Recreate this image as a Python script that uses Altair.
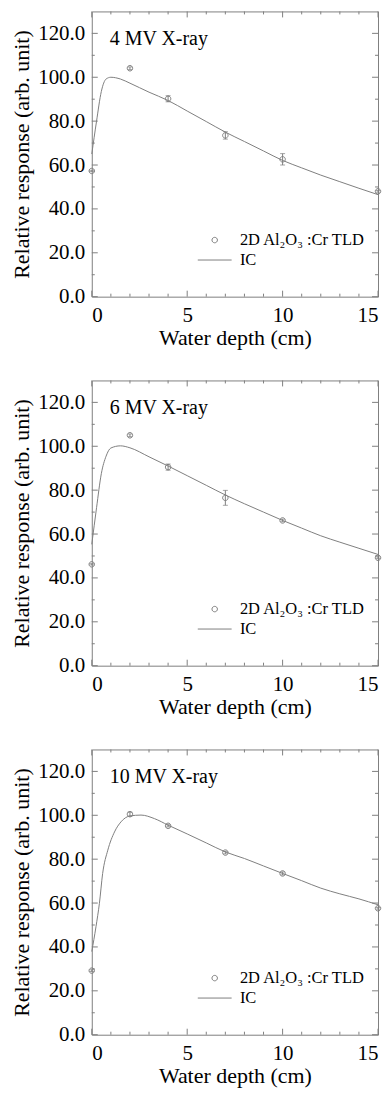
import altair as alt
import pandas as pd

# ---------------- data ----------------
tld_depth = [0, 2, 4, 7, 10, 15]

ic4_depth = [0, 0.25, 0.5, 0.75, 1.0, 1.5, 2, 3, 4, 5, 6, 7, 8, 9, 10, 11, 12, 13, 14, 15]
ic4_resp = [65.0, 80.0, 93.5, 99.2, 100.0, 99.2, 97.3, 93.2, 89.4, 84.6, 79.8, 75.0, 70.7, 66.4, 62.1, 58.7, 55.4, 52.4, 49.4, 46.5]
tld4_resp = [57.3, 104.1, 90.2, 73.5, 62.6, 48.0]
tld4_err = [0.3, 0.6, 1.4, 1.7, 2.6, 0.4]

ic6_depth = [0, 0.25, 0.5, 0.75, 1.0, 1.5, 2, 3, 4, 5, 6, 7, 8, 9, 10, 11, 12, 13, 14, 15]
ic6_resp = [55.3, 72.0, 87.5, 95.5, 99.2, 100.2, 99.3, 95.2, 91.0, 86.6, 82.2, 77.8, 73.8, 70.0, 66.2, 62.7, 59.2, 56.3, 53.5, 50.7]
tld6_resp = [46.2, 105.0, 90.5, 76.5, 66.2, 49.2]
tld6_err = [0.3, 0.6, 1.4, 3.4, 0.6, 0.4]

ic10_depth = [0, 0.22, 0.4, 0.57, 0.84, 1.19, 1.53, 2.0, 2.58, 3.28, 4, 5, 6, 7, 8, 9, 10, 11, 12, 13, 14, 15]
ic10_resp = [37.9, 49.2, 59.9, 73.5, 84.1, 92.4, 97.0, 99.7, 100.1, 98.5, 95.5, 91.5, 87.4, 83.3, 80.3, 76.9, 73.5, 70.2, 66.8, 64.2, 61.9, 59.2]
tld10_resp = [29.2, 100.5, 95.2, 83.0, 73.5, 57.6]
tld10_err = [0.4, 0.9, 0.5, 0.6, 0.7, 0.4]

panel_labels = ["4 MV X-ray", "6 MV X-ray", "10 MV X-ray"]
series_names = ["2D Al\u2082O\u2083 :Cr TLD", "IC"]

x_major = [0, 5, 10, 15]
x_minor = [1, 2, 3, 4, 6, 7, 8, 9, 11, 12, 13, 14]
y_major = [0, 20, 40, 60, 80, 100, 120]
y_minor = [10, 30, 50, 70, 90, 110]

# ---------------- styling ----------------
W, H = 287, 286
GRAY = "#7f7f7f"
FONT = "Liberation Serif"
MAJ, MIN = 6, 3
CIRCLE_PATH = "M-1,0A1,1 0 1,0 1,0A1,1 0 1,0 -1,0Z"
LINE_PATH = "M-6.2,0L6.2,0"

xs = alt.Scale(domain=[0, 15], nice=False, zero=False)
ys = alt.Scale(domain=[0, 130], nice=False, zero=False)
AX = alt.Axis(values=x_major, format="d", title="Water depth (cm)",
              labelFont=FONT, labelFontSize=21, labelColor="black",
              titleFont=FONT, titleFontSize=22, titleFontWeight="normal", titleColor="black",
              labelPadding=8, titlePadding=2, ticks=False, domain=False, grid=False)
AY = alt.Axis(values=y_major, format=".1f", title="Relative response (arb. unit)",
              labelFont=FONT, labelFontSize=21, labelColor="black",
              titleFont=FONT, titleFontSize=22, titleFontWeight="normal", titleColor="black",
              labelPadding=7, titlePadding=4, ticks=False, domain=False, grid=False)


def X(field):
    return alt.X(field, scale=xs, axis=AX, title="Water depth (cm)")


def Y(field):
    return alt.Y(field, scale=ys, axis=AY, title="Relative response (arb. unit)")


def tick_layers():
    layers = []
    for vals, ln in ((x_major, MAJ), (x_minor, MIN)):
        d = pd.DataFrame({"v": vals})
        layers.append(alt.Chart(d).mark_rule(color=GRAY, strokeWidth=1).encode(
            x=X("v:Q"), y=alt.value(H), y2=alt.value(H - ln)))
        layers.append(alt.Chart(d).mark_rule(color=GRAY, strokeWidth=1).encode(
            x=X("v:Q"), y=alt.value(0), y2=alt.value(ln)))
    for vals, ln in ((y_major, MAJ), (y_minor, MIN)):
        d = pd.DataFrame({"v": vals})
        layers.append(alt.Chart(d).mark_rule(color=GRAY, strokeWidth=1).encode(
            y=Y("v:Q"), x=alt.value(0), x2=alt.value(ln)))
        layers.append(alt.Chart(d).mark_rule(color=GRAY, strokeWidth=1).encode(
            y=Y("v:Q"), x=alt.value(W), x2=alt.value(W - ln)))
    return layers


def legend():
    return alt.Legend(
        title=None, orient="none", legendX=115, legendY=221,
        labelFont=FONT, labelFontSize=16.5, labelColor="black",
        symbolStrokeColor=GRAY, symbolFillColor="transparent", symbolSize=30,
        symbolStrokeWidth=1, labelOffset=17, padding=0, rowPadding=3)


def panel(label, ic_x, ic_y, tld_y, tld_e):
    ic = pd.DataFrame({"depth": ic_x, "resp": ic_y})
    tld = pd.DataFrame({
        "depth": tld_depth,
        "resp": tld_y,
        "lo": [v - e for v, e in zip(tld_y, tld_e)],
        "hi": [v + e for v, e in zip(tld_y, tld_e)],
        "series": series_names[0],
    })
    lab = pd.DataFrame({"label": [label]})

    line = alt.Chart(ic).mark_line(color=GRAY, strokeWidth=1, interpolate="monotone").encode(
        x=X("depth:Q"), y=Y("resp:Q"))
    err = alt.Chart(tld).mark_rule(color=GRAY, strokeWidth=1).encode(
        x=X("depth:Q"), y=Y("lo:Q"), y2="hi:Q")
    cap_lo = alt.Chart(tld).mark_tick(color=GRAY, orient="horizontal", size=5, thickness=1).encode(
        x=X("depth:Q"), y=Y("lo:Q"))
    cap_hi = alt.Chart(tld).mark_tick(color=GRAY, orient="horizontal", size=5, thickness=1).encode(
        x=X("depth:Q"), y=Y("hi:Q"))
    pts = alt.Chart(tld).mark_point(filled=False, color=GRAY, strokeWidth=1, opacity=1, size=30).encode(
        x=X("depth:Q"),
        y=Y("resp:Q"),
        shape=alt.Shape("series:N",
                        scale=alt.Scale(domain=series_names, range=[CIRCLE_PATH, LINE_PATH]),
                        legend=legend()),
    )
    title = alt.Chart(lab).mark_text(font=FONT, fontSize=20, color="black", align="left",
                                     baseline="alphabetic").encode(
        text="label:N", x=alt.value(18), y=alt.value(34))
    return alt.layer(line, *tick_layers(), err, cap_lo, cap_hi, pts, title).properties(
        width=W, height=H)


p1 = panel(panel_labels[0], ic4_depth, ic4_resp, tld4_resp, tld4_err)
p2 = panel(panel_labels[1], ic6_depth, ic6_resp, tld6_resp, tld6_err)
p3 = panel(panel_labels[2], ic10_depth, ic10_resp, tld10_resp, tld10_err)

chart = alt.vconcat(p1, p2, p3, spacing=84, bounds="flush").resolve_scale(
    shape="independent"
).properties(
    padding={"left": 2, "top": 1, "right": 0, "bottom": 0}
).configure(
    font=FONT,
).configure_view(
    stroke=GRAY, strokeWidth=1
).configure_axis(
    labelFont=FONT, labelFontSize=21, labelColor="black",
    titleFont=FONT, titleFontSize=22, titleFontWeight="normal", titleColor="black",
    ticks=False, domain=False, grid=False,
)

chart.save("out.html", embed_options={"renderer": "svg", "actions": False})
